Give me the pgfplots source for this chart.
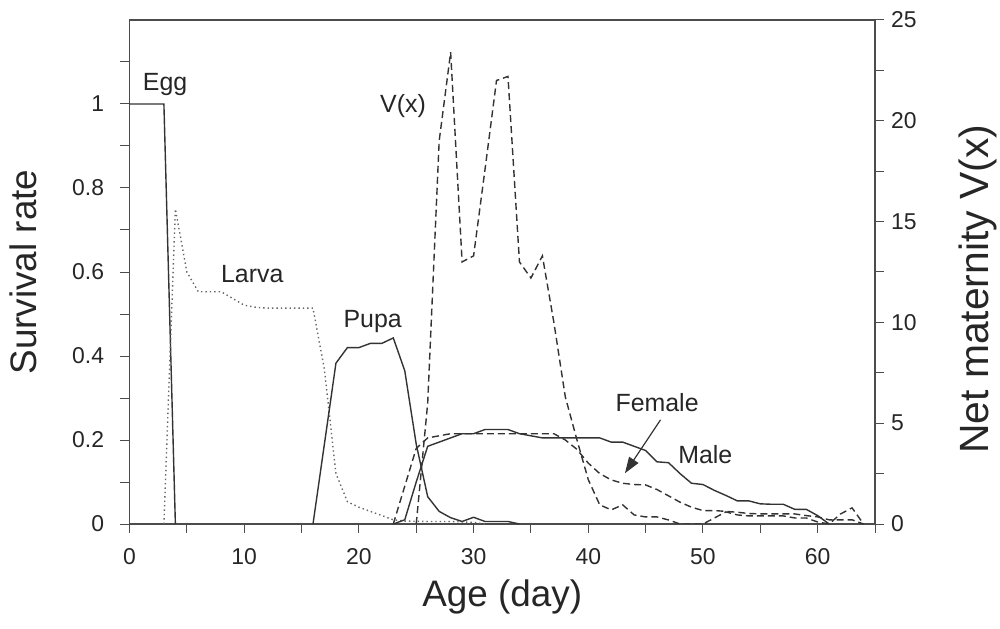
\documentclass[border=0pt]{standalone}
\usepackage{fontspec}
\setmainfont{Liberation Sans}
\usepackage{pgfplots}
\pgfplotsset{compat=1.18}
\usetikzlibrary{arrows.meta}

\pgfplotsset{
  base/.style={
    scale only axis, width=372.75bp, height=252bp,
    xmin=0, xmax=65,
    tick align=outside,
    major tick length=4.5bp, minor tick length=4.5bp,
    every tick/.style={black!70, line width=0.5bp},
    axis line style={black!70, line width=0.6bp},
    tick label style={font=\fontsize{11.5}{13}\selectfont, text=black!85},
    /pgf/number format/assume math mode=true,
    label style={font=\fontsize{18.5}{22}\selectfont, text=black!85},
  },
}

\begin{document}
\begin{tikzpicture}
\begin{axis}[base, name=ax,
    ymin=0, ymax=1.2,
    xtick={0,10,...,60}, minor xtick={5,15,...,65},
    ytick={0,0.2,0.4,0.6,0.8,1}, yticklabels={0,0.2,0.4,0.6,0.8,1},
    minor ytick={0.1,0.3,0.5,0.7,0.9,1.1},
    xtick pos=bottom, ytick pos=left,
    xticklabel style={yshift=-4bp},
    yticklabel style={xshift=-4.7bp},
    xlabel={Age (day)}, ylabel={Survival rate},
    xlabel style={at={(axis description cs:0.5,-0.1448)}, anchor=center},
    ylabel style={at={(axis description cs:-0.142,0.5)}, anchor=center},
]
% Egg
\addplot[black!80, line width=0.7bp] coordinates {(0,1) (3,1) (4,0)};
% Larva
\addplot[black!60, line width=0.7bp, dash pattern=on 0.7bp off 1.5bp] coordinates {
(3,0) (4,0.75) (5,0.6) (6,0.553) (7,0.553) (8,0.553) (9,0.537) (10,0.521) (11,0.516)
(12,0.514) (13,0.514) (14,0.514) (15,0.514) (16,0.514) (17,0.367) (18,0.12) (19,0.053)
(20,0.04) (21,0.03) (22,0.02) (23,0.01) (24,0.007) (26,0.006) (28,0.006) (30,0.004) (31,0)};
% Pupa
\addplot[black!80, line width=0.7bp] coordinates {
(16,0) (18,0.383) (19,0.42) (20,0.42) (21,0.43) (22,0.43) (23,0.443) (24,0.365)
(25,0.19) (26,0.065) (27,0.03) (28,0.015) (29,0.006) (30,0.016) (31,0.006) (33,0.006) (34,0)};
% Female
\addplot[black!80, line width=0.7bp, dash pattern=on 3.5bp off 2bp] coordinates {
(23,0) (24,0.09) (25,0.18) (26,0.205) (27,0.21) (28,0.215) (33,0.215) (37,0.215) (38,0.2)
(39,0.178) (40,0.145) (41,0.12) (42,0.105) (43,0.097) (44,0.094) (45,0.093) (46,0.082)
(47,0.067) (48,0.052) (49,0.04) (50,0.032) (51,0.032) (52,0.03) (53,0.028) (54,0.025)
(55,0.024) (58,0.024) (59,0.02) (60,0.017) (61,0.01) (63,0.01) (64,0)};
% Male
\addplot[black!80, line width=0.7bp] coordinates {
(23,0) (24,0.01) (25,0.1) (26,0.185) (27,0.195) (28,0.205) (29,0.215) (30,0.215)
(31,0.225) (32,0.225) (33,0.225) (34,0.215) (35,0.21) (36,0.205) (41,0.205) (42,0.195)
(43,0.195) (44,0.185) (45,0.175) (46,0.148) (47,0.146) (48,0.12) (49,0.097) (50,0.094)
(51,0.08) (52,0.068) (53,0.055) (54,0.055) (55,0.048) (56,0.047) (57,0.047) (58,0.035)
(59,0.035) (60,0.02) (61,0)};
% labels
\begin{scope}[every node/.style={font=\fontsize{12.5}{14}\selectfont, text=black!85, anchor=base}]
\node at (axis cs:3.1,1.033) {Egg};
\node at (axis cs:23.85,0.979) {V(x)};
\node at (axis cs:10.7,0.576) {Larva};
\node at (axis cs:21.2,0.467) {Pupa};
\node at (axis cs:46.0,0.267) {Female};
\node at (axis cs:50.2,0.145) {Male};
\end{scope}
\draw[black!80, line width=0.6bp, -{Triangle[length=8bp,width=5.5bp]}]
  (axis cs:46.3,0.248) -- (axis cs:43.2,0.121);
\end{axis}

\begin{axis}[base,
    ymin=0, ymax=25,
    axis x line=none, axis y line*=right,
    ytick={0,5,...,25}, minor ytick={2.5,7.5,...,22.5},
    ylabel={Net maternity V(x)},
    ylabel style={at={(axis description cs:1.138,0.466)}, anchor=center,
      font=\fontsize{20.5}{24}\selectfont},
]
% V(x)
\addplot[black!80, line width=0.7bp, dash pattern=on 3.5bp off 2bp] coordinates {
(25,0) (26,6) (27,19) (28,23.4) (29,13) (30,13.3) (31,17.6) (32,22) (33,22.2) (34,13)
(35,12.2) (36,13.3) (37,10) (38,6.3) (39,4.2) (40,2.2) (41,0.95) (42,0.7) (43,0.95)
(44,0.45) (45,0.35) (46,0.35) (47,0.2) (48,0) (50,0) (51,0.3) (52,0.6) (53,0.45)
(54,0.4) (57,0.4) (58,0.3) (59,0.3) (60,0.1) (61,0) (62,0.5) (63,0.8) (64,0)};
\end{axis}
\pgfresetboundingbox
\path ([shift={(-64.75bp,-52.5bp)}]ax.south west) rectangle ([shift={(435.25bp,262bp)}]ax.south west);
\end{tikzpicture}
\end{document}
